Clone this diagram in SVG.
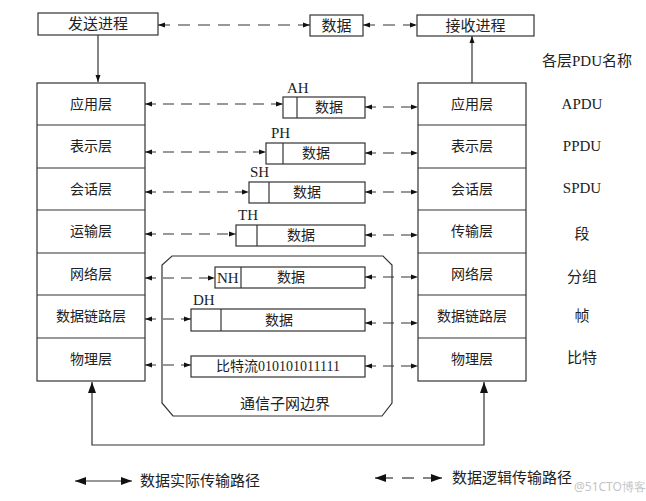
<svg xmlns="http://www.w3.org/2000/svg" width="646" height="501" viewBox="0 0 646 501">
<style>
.bx{fill:#fff;stroke:#333;stroke-width:1.2}
.t{font-family:"Liberation Serif","Noto Sans CJK SC",serif;font-size:14px;fill:#222;text-anchor:middle;dominant-baseline:central}
.l{font-family:"Liberation Serif","Noto Sans CJK SC",serif;font-size:14px;fill:#222}
.ln{stroke:#333;stroke-width:1.2;fill:none}
.dl{stroke:#333;stroke-width:1.2;fill:none;stroke-dasharray:11 7}
</style>
<defs>
<marker id="a" viewBox="0 0 7 6" refX="7" refY="3" markerWidth="7" markerHeight="6" markerUnits="userSpaceOnUse" orient="auto-start-reverse"><path d="M0,0.5 L7,3 L0,5.5 z" fill="#111"/></marker>
<marker id="b" viewBox="0 0 11 8" refX="11" refY="4" markerWidth="11" markerHeight="8" markerUnits="userSpaceOnUse" orient="auto-start-reverse"><path d="M0,0 L11,4 L0,8 z" fill="#111"/></marker>
</defs>

<g id="send"><rect class="bx" x="38" y="13" width="120" height="22"/><text class="t" x="98" y="24" style="font-size:15px">发送进程</text></g>
<g id="data-top"><rect class="bx" x="310" y="15" width="53" height="21"/><text class="t" x="336.5" y="25.5" style="font-size:15px">数据</text></g>
<g id="recv"><rect class="bx" x="417" y="15" width="117" height="21"/><text class="t" x="475.5" y="25.5" style="font-size:15px">接收进程</text></g>

<g id="left-stack">
<rect class="bx" x="37" y="83" width="108" height="298"/>
<path class="ln" d="M37,125H145M37,168H145M37,210H145M37,253H145M37,295H145M37,338H145"/>
<text class="t" x="91" y="104">应用层</text>
<text class="t" x="91" y="146.5">表示层</text>
<text class="t" x="91" y="189">会话层</text>
<text class="t" x="91" y="231.5">运输层</text>
<text class="t" x="91" y="274">网络层</text>
<text class="t" x="91" y="316.5">数据链路层</text>
<text class="t" x="91" y="359.5">物理层</text>
</g>

<g id="right-stack">
<rect class="bx" x="418" y="83" width="108" height="298"/>
<path class="ln" d="M418,125H526M418,168H526M418,210H526M418,253H526M418,295H526M418,338H526"/>
<text class="t" x="472" y="104">应用层</text>
<text class="t" x="472" y="146.5">表示层</text>
<text class="t" x="472" y="189">会话层</text>
<text class="t" x="472" y="231.5">传输层</text>
<text class="t" x="472" y="274">网络层</text>
<text class="t" x="472" y="316.5">数据链路层</text>
<text class="t" x="472" y="359.5">物理层</text>
</g>

<g id="pdu-names">
<text class="t" x="587" y="61" style="font-size:15px">各层PDU名称</text>
<text class="t" x="582" y="104" style="font-size:15px">APDU</text>
<text class="t" x="582" y="146" style="font-size:15px">PPDU</text>
<text class="t" x="582" y="188" style="font-size:15px">SPDU</text>
<text class="t" x="582" y="234" style="font-size:15px">段</text>
<text class="t" x="582" y="277" style="font-size:15px">分组</text>
<text class="t" x="582" y="316" style="font-size:15px">帧</text>
<text class="t" x="582" y="358" style="font-size:15px">比特</text>
</g>

<g id="subnet">
<path class="ln" d="M172,256 L383,256 L392,265 L392,403 L382,416 L173,416 L162,403 L162,265 Z"/>
<text class="t" x="285" y="404" style="font-size:15px">通信子网边界</text>
</g>

<g id="pdu-ah"><rect class="bx" x="283" y="97" width="82" height="21"/><path class="ln" d="M297,97V118"/><text class="l" x="287" y="93" style="font-size:15px">AH</text><text class="t" x="329" y="107.5">数据</text></g>
<g id="pdu-ph"><rect class="bx" x="266" y="143" width="99" height="21"/><path class="ln" d="M283,143V164"/><text class="l" x="271" y="138" style="font-size:15px">PH</text><text class="t" x="316" y="153.5">数据</text></g>
<g id="pdu-sh"><rect class="bx" x="249" y="182" width="116" height="21"/><path class="ln" d="M269,182V203"/><text class="l" x="250" y="177" style="font-size:15px">SH</text><text class="t" x="307" y="192.5">数据</text></g>
<g id="pdu-th"><rect class="bx" x="236" y="225" width="129" height="21"/><path class="ln" d="M257,225V246"/><text class="l" x="238" y="220" style="font-size:15px">TH</text><text class="t" x="301" y="235.5">数据</text></g>
<g id="pdu-nh"><rect class="bx" x="215" y="267" width="150" height="21"/><path class="ln" d="M241,267V288"/><text class="l" x="217" y="283" style="font-size:15px">NH</text><text class="t" x="291" y="277.5">数据</text></g>
<g id="pdu-dh"><rect class="bx" x="191" y="309" width="174" height="22"/><path class="ln" d="M221,309V331"/><text class="l" x="193" y="305" style="font-size:15px">DH</text><text class="t" x="279" y="320">数据</text></g>
<g id="pdu-bit"><rect class="bx" x="191" y="356" width="174" height="21"/><text class="t" x="278" y="366.5">比特流010101011111</text></g>

<g id="connectors">
<line class="ln" x1="98" y1="35" x2="98" y2="82" marker-end="url(#a)"/>
<line class="ln" x1="472" y1="83" x2="472" y2="36" marker-end="url(#a)"/>
<line class="dl" x1="158" y1="25" x2="310" y2="25" style="stroke-dasharray:12 8" marker-start="url(#a)" marker-end="url(#a)"/>
<line class="dl" x1="363" y1="25" x2="417" y2="25" style="stroke-dasharray:12 8" marker-start="url(#a)" marker-end="url(#a)"/>

<line class="dl" x1="145" y1="104" x2="283" y2="104" marker-start="url(#a)" marker-end="url(#a)"/>
<line class="dl" x1="145" y1="152" x2="266" y2="152" marker-start="url(#a)" marker-end="url(#a)"/>
<line class="dl" x1="145" y1="192" x2="249" y2="192" marker-start="url(#a)" marker-end="url(#a)"/>
<line class="dl" x1="145" y1="234" x2="236" y2="234" marker-start="url(#a)" marker-end="url(#a)"/>
<line class="dl" x1="145" y1="278" x2="215" y2="278" marker-start="url(#a)" marker-end="url(#a)"/>
<line class="dl" x1="145" y1="319" x2="191" y2="319" marker-start="url(#a)" marker-end="url(#a)"/>
<line class="dl" x1="145" y1="365" x2="191" y2="365" marker-start="url(#a)" marker-end="url(#a)"/>

<line class="dl" x1="365" y1="107" x2="418" y2="107" marker-start="url(#a)" marker-end="url(#a)"/>
<line class="dl" x1="365" y1="153" x2="418" y2="153" marker-start="url(#a)" marker-end="url(#a)"/>
<line class="dl" x1="365" y1="192" x2="418" y2="192" marker-start="url(#a)" marker-end="url(#a)"/>
<line class="dl" x1="365" y1="235" x2="418" y2="235" marker-start="url(#a)" marker-end="url(#a)"/>
<line class="dl" x1="365" y1="277" x2="418" y2="277" marker-start="url(#a)" marker-end="url(#a)"/>
<line class="dl" x1="365" y1="323" x2="418" y2="323" marker-start="url(#a)" marker-end="url(#a)"/>
<line class="dl" x1="365" y1="366" x2="418" y2="366" marker-start="url(#a)" marker-end="url(#a)"/>

<polyline class="ln" points="92,382 92,445 484,445 484,382" marker-start="url(#b)" marker-end="url(#b)"/>
</g>

<g id="legend">
<line class="ln" x1="75" y1="481" x2="132" y2="481" marker-start="url(#b)" marker-end="url(#b)"/>
<text class="l" x="140" y="486" style="font-size:15px">数据实际传输路径</text>
<line class="ln" x1="375" y1="478" x2="393" y2="478" marker-start="url(#b)"/>
<line class="ln" x1="402" y1="478" x2="414" y2="478"/>
<line class="ln" x1="423" y1="478" x2="442" y2="478" marker-end="url(#b)"/>
<text class="l" x="452" y="483" style="font-size:15px">数据逻辑传输路径</text>
<text x="574" y="491" style="font-family:'Noto Sans',sans-serif;font-size:12px;fill:#c4c4c4">@51CTO博客</text>
</g>
</svg>
